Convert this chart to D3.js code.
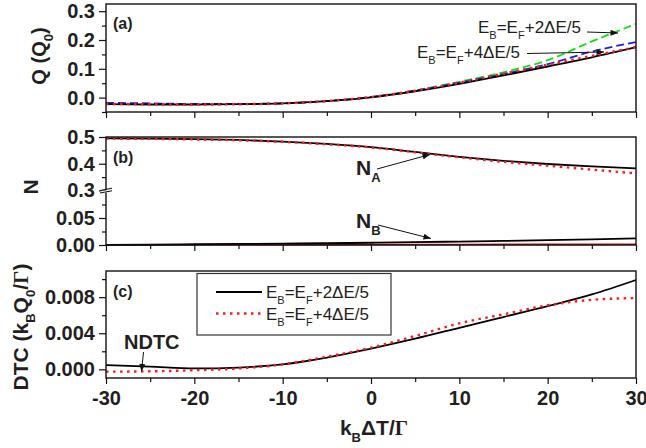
<!DOCTYPE html>
<html>
<head>
<meta charset="utf-8">
<script src="https://cdnjs.cloudflare.com/ajax/libs/d3/7.8.5/d3.min.js"></script>
<style>
body{margin:0;background:#fff;}
svg text{font-family:"Liberation Sans",Arial,sans-serif;fill:#231f20;}
</style>
</head>
<body>
<div id="chart"></div>
<script>
(function(){
	var W = 646, H = 448;

	// kB dT / Gamma
	var xs = [-30,-25,-20,-15,-10,-5,0,5,10,15,20,25,30];
	// (a) Q
	var qBlack = [-0.023,-0.024,-0.024,-0.023,-0.020,-0.012,0.001,0.022,0.048,0.077,0.108,0.140,0.175];
	var qRed   = [-0.022,-0.023,-0.024,-0.023,-0.020,-0.012,0.002,0.024,0.052,0.083,0.114,0.145,0.175];
	var qBlue  = [-0.018,-0.020,-0.022,-0.022,-0.020,-0.012,0.002,0.024,0.052,0.082,0.116,0.160,0.193];
	var qGreen = [-0.021,-0.022,-0.023,-0.023,-0.020,-0.012,0.002,0.025,0.055,0.088,0.130,0.195,0.256];
	// (b) N
	var naBlack = [0.495,0.494,0.492,0.489,0.483,0.474,0.462,0.444,0.426,0.411,0.399,0.390,0.383];
	var naRed   = [0.494,0.493,0.491,0.488,0.482,0.473,0.461,0.443,0.424,0.407,0.393,0.378,0.364];
	var nbBlack = [0.0003,0.0008,0.0014,0.0020,0.0026,0.0032,0.0042,0.0052,0.0064,0.0076,0.0090,0.0106,0.0124];
	var nbRed   = [0.0002,0.0003,0.0004,0.0005,0.0006,0.0007,0.0008,0.0009,0.0010,0.0011,0.0012,0.0012,0.0013];
	// (c) DTC
	var dtcBlack = [0.00048,0.00030,0.00010,0.00020,0.00055,0.0013,0.0023,0.0034,0.0046,0.0058,0.0070,0.0083,0.0099];
	var dtcRed   = [-0.00026,-0.00022,-0.00010,0.00010,0.00055,0.0014,0.0024,0.0037,0.0051,0.0061,0.0071,0.0077,0.0079];

	var xTicks = [-30,-20,-10,0,10,20,30];
	var xMinor = [-25,-15,-5,5,15,25];
	var qTicks = [0.0,0.1,0.2,0.3], qMinor = [-0.05,0.05,0.15,0.25];
	var nUpTicks = [0.3,0.4,0.5], nUpMinor = [0.35,0.45];
	var nLoTicks = [0,0.05], nLoMinor = [0.025,0.075];
	var dtcTicks = [0,0.004,0.008], dtcMinor = [0.002,0.006,0.010];

	var FONT = '"Liberation Sans",Arial,sans-serif';

	var svg = d3.select("#chart").append("svg")
		.attr("width", W).attr("height", H);

	var defs = svg.append("defs");
	defs.append("marker").attr("id","arr")
		.attr("viewBox","0 0 10 8").attr("refX",10).attr("refY",4)
		.attr("markerWidth",9).attr("markerHeight",6)
		.attr("markerUnits","userSpaceOnUse").attr("orient","auto")
		.append("path").attr("d","M0,0 L10,4 L0,8 z").attr("fill","#111");

	var L = 106, R = 636;
	var x = d3.scaleLinear().domain([-30,30]).range([L,R]);

	var pa = {top:4, bottom:112}, pb = {top:137, bottom:245}, pc = {top:271, bottom:378};
	var yA = d3.scaleLinear().domain([-0.05,0.325]).range([pa.bottom,pa.top]);
	var yBup = d3.scaleLinear().domain([0.3,0.5]).range([190.5,pb.top]);
	var yBlo = d3.scaleLinear().domain([0,0.1]).range([pb.bottom,191]);
	function yB(v){ return v >= 0.2 ? yBup(v) : yBlo(v); }
	var yC = d3.scaleLinear().domain([-0.00096,0.0109]).range([pc.bottom,pc.top]);

	function series(vals){ return xs.map(function(d,i){ return [d, vals[i]]; }); }
	function hyph(f){ return function(d){ return d3.format(f)(d).replace("\u2212","-"); }; }

	function drawLine(y, vals, color, dash, width){
		var line = d3.line().x(function(d){ return x(d[0]); })
			.y(function(d){ return y(d[1]); })
			.curve(d3.curveMonotoneX);
		svg.append("path").datum(series(vals))
			.attr("d", line).attr("fill","none")
			.attr("stroke", color).attr("stroke-width", width || 1.8)
			.attr("stroke-dasharray", dash || null);
	}

	function yAxis(scale, ticks, minor, fmt){
		var g = svg.append("g").attr("transform","translate("+L+",0)");
		g.call(d3.axisLeft(scale).tickValues(ticks).tickSize(7).tickPadding(4).tickFormat(hyph(fmt)));
		g.append("g").call(d3.axisLeft(scale).tickValues(minor).tickSize(4).tickFormat(""));
		g.selectAll(".domain").remove();
		g.selectAll("line").attr("stroke","#111").attr("stroke-width",1.2);
		g.selectAll("text").attr("font-size",20).attr("font-weight","bold")
			.attr("font-family",FONT).attr("fill","#231f20");
		return g;
	}

	function xAxis(bottom, labels){
		var g = svg.append("g").attr("transform","translate(0,"+bottom+")");
		g.call(d3.axisBottom(x).tickValues(xTicks).tickSize(6).tickPadding(7)
			.tickFormat(labels ? hyph("d") : ""));
		g.append("g").call(d3.axisBottom(x).tickValues(xMinor).tickSize(4).tickFormat(""));
		g.selectAll(".domain").remove();
		g.selectAll("line").attr("stroke","#111").attr("stroke-width",1.2);
		g.selectAll("text").attr("font-size",20).attr("font-weight","bold")
			.attr("font-family",FONT).attr("fill","#231f20");
	}

	function frame(p){
		svg.append("rect").attr("x",L).attr("y",p.top)
			.attr("width",R-L).attr("height",p.bottom-p.top)
			.attr("fill","none").attr("stroke","#111").attr("stroke-width",1.4);
	}

	// rich text: parts = [text, isSub, fontFamily]
	function rich(g, parts, subSize){
		var shift = 0, drop = subSize*0.5;
		parts.forEach(function(p){
			var t = g.append("tspan").text(p[0]);
			var want = p[1] ? drop : 0;
			if (want !== shift) { t.attr("dy", want - shift); shift = want; }
			if (p[1]) t.attr("font-size", subSize);
			if (p[2]) t.attr("font-family", p[2]);
		});
		return g;
	}
	var ebPlus = function(n){ return [["E"],["B",1],["=E"],["F",1],["+"+n+"\u0394E/5"]]; };

	function arrow(x1,y1,x2,y2){
		svg.append("line").attr("x1",x1).attr("y1",y1).attr("x2",x2).attr("y2",y2)
			.attr("stroke","#111").attr("stroke-width",1)
			.attr("marker-end","url(#arr)");
	}

	// ---------- panel (a)
	drawLine(yA, qGreen, "#11dd11", "8,4", 1.8);
	drawLine(yA, qBlue, "#1f1fe0", "8,4", 1.8);
	drawLine(yA, qBlack, "#000", null, 1.8);
	drawLine(yA, qRed, "#ff1a1a", "2.5,4.5", 2.4);
	frame(pa);
	yAxis(yA, qTicks, qMinor, ".1f");
	xAxis(pa.bottom, false);

	// ---------- panel (b)
	drawLine(yB, naBlack, "#000", null, 1.8);
	drawLine(yB, naRed, "#ff1a1a", "2.5,4.5", 2.4);
	drawLine(yB, nbRed, "#d01010", null, 1.6);
	drawLine(yB, nbBlack, "#000", null, 1.8);
	frame(pb);
	yAxis(yBup, nUpTicks, nUpMinor, ".1f");
	yAxis(yBlo, nLoTicks, nLoMinor, ".2f");
	xAxis(pb.bottom, false);
	// axis break marks
	var brk = svg.append("g");
	brk.append("path").attr("d","M100,191.5 L112,189.2 L112,191.4 L100,193.7 z").attr("fill","#fff");
	brk.append("line").attr("x1",100).attr("y1",190.5).attr("x2",112).attr("y2",188.2).attr("stroke","#111").attr("stroke-width",1.1);
	brk.append("line").attr("x1",100).attr("y1",193).attr("x2",112).attr("y2",190.7).attr("stroke","#111").attr("stroke-width",1.1);

	// ---------- panel (c)
	drawLine(yC, dtcBlack, "#000", null, 1.8);
	drawLine(yC, dtcRed, "#ff1a1a", "2.5,4.5", 2.4);
	frame(pc);
	yAxis(yC, dtcTicks, dtcMinor, ".3f");
	xAxis(pc.bottom, true);

	// legend
	var lg = svg.append("g");
	lg.append("rect").attr("x",197).attr("y",273.5).attr("width",194).attr("height",61.5)
		.attr("fill","#fff").attr("stroke","#333").attr("stroke-width",1.2);
	lg.append("line").attr("x1",216).attr("x2",262).attr("y1",292).attr("y2",292)
		.attr("stroke","#000").attr("stroke-width",1.8);
	lg.append("line").attr("x1",216).attr("x2",262).attr("y1",313.5).attr("y2",313.5)
		.attr("stroke","#ff1a1a").attr("stroke-width",2.4).attr("stroke-dasharray","2.5,4.5");
	rich(lg.append("text").attr("x",266).attr("y",298).attr("font-size",17), ebPlus(2), 11);
	rich(lg.append("text").attr("x",266).attr("y",320).attr("font-size",17), ebPlus(4), 11);

	// annotations (a)
	rich(svg.append("text").attr("x",478).attr("y",33).attr("font-size",17), ebPlus(2), 11);
	arrow(587,32,618,33);
	rich(svg.append("text").attr("x",417).attr("y",58).attr("font-size",17), ebPlus(4), 11);
	arrow(527,53.5,604,52);

	// annotations (b)
	rich(svg.append("text").attr("x",356).attr("y",175).attr("font-size",21).attr("font-weight","bold"),
		[["N"],["A",1]], 13);
	arrow(377,169,430,154.5);
	rich(svg.append("text").attr("x",356).attr("y",228).attr("font-size",21).attr("font-weight","bold"),
		[["N"],["B",1]], 13);
	arrow(378,225,431,238.5);

	// annotation (c)
	svg.append("text").attr("x",124).attr("y",349).attr("font-size",20)
		.attr("font-weight","bold").text("NDTC");
	arrow(143.5,352,141.5,371.5);

	// panel labels
	[["(a)",29],["(b)",163],["(c)",297]].forEach(function(d){
		svg.append("text").attr("x",113).attr("y",d[1]).attr("font-size",16)
			.attr("font-weight","bold").text(d[0]);
	});

	// axis titles
	rich(svg.append("text").attr("transform","translate(46,56) rotate(-90)")
		.attr("text-anchor","middle").attr("font-size",20).attr("font-weight","bold"),
		[["Q (Q"],["0",1],[")"]], 13);
	svg.append("text").attr("transform","translate(38,187) rotate(-90)")
		.attr("text-anchor","middle").attr("font-size",21).attr("font-weight","bold").text("N");
	rich(svg.append("text").attr("transform","translate(28,327) rotate(-90)")
		.attr("text-anchor","middle").attr("font-size",21).attr("font-weight","bold"),
		[["DTC (k"],["B",1],["Q"],["0",1],["/"],["\u0393",0,'"Liberation Serif",serif'],[")"]], 13);
	rich(svg.append("text").attr("x",374).attr("y",435)
		.attr("text-anchor","middle").attr("font-size",21).attr("font-weight","bold"),
		[["k"],["B",1],["\u0394T/"],["\u0393",0,'"Liberation Serif",serif']], 13);
})();
</script>
</body>
</html>
